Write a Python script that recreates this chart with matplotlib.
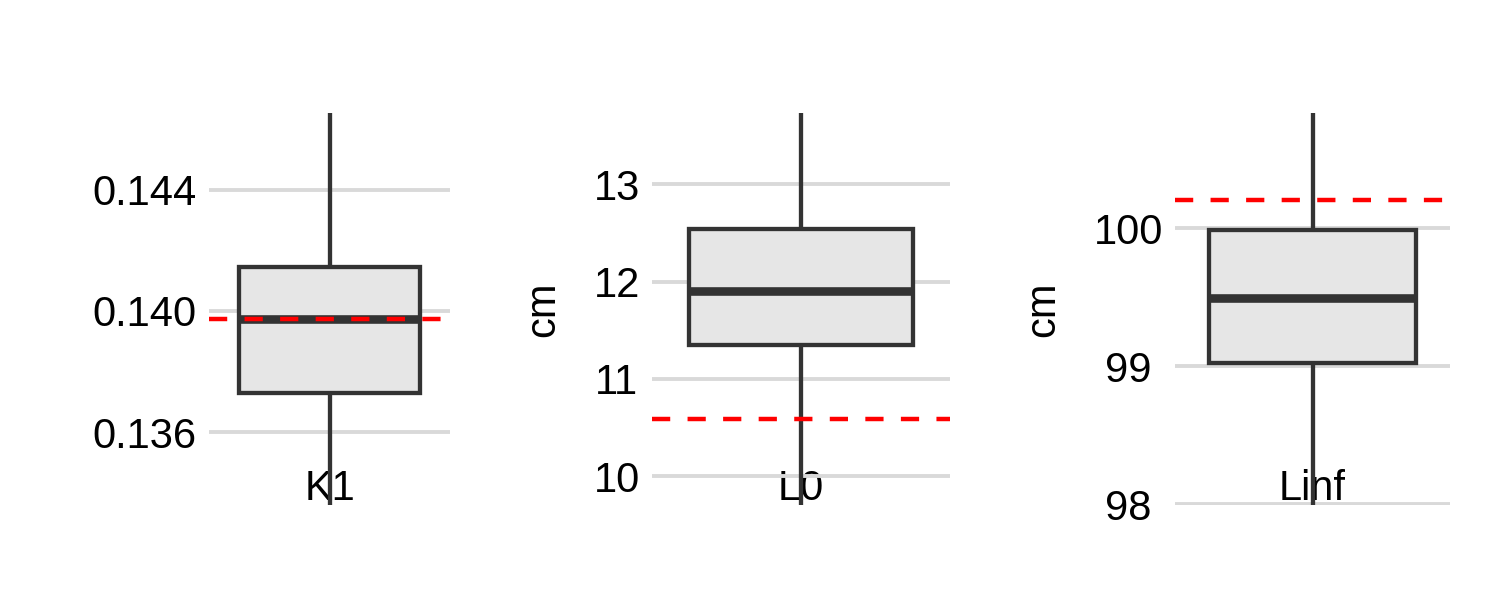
import matplotlib
matplotlib.use("Agg")
import matplotlib.pyplot as plt

plt.rcParams['font.family'] = ['Liberation Sans', 'DejaVu Sans']

# ---- data ----
params = ['K1', 'L0', 'Linf']
ylabels = ['', 'cm', 'cm']
whisker_low = [0.1330, 9.5, 97.5]
q1 = [0.13729, 11.350, 99.02]
median = [0.13975, 11.904, 99.496]
q3 = [0.14144, 12.538, 99.99]
whisker_high = [0.1470, 14.0, 101.0]
reference = [0.13974, 10.586, 100.205]
yticks = [[0.136, 0.140, 0.144], [10, 11, 12, 13], [98, 99, 100]]
yticklabels = [['0.136', '0.140', '0.144'], ['10', '11', '12', '13'], ['98', '99', '100']]
ylims = [(0.133587, 0.146545), (9.705, 13.733), (97.993, 100.837)]

# ---- layout ----
W, H, DPI = 15, 6, 100
fig = plt.figure(figsize=(W, H), dpi=DPI)
panel_px = [(209, 450), (652, 950), (1175, 1450)]
top_px, bot_px = 113, 505

DARK = '#333333'
FS = 30

axes = []
for i, p in enumerate(params):
    l, r = panel_px[i]
    ax = fig.add_axes([l / 1500, 1 - bot_px / 600, (r - l) / 1500, (bot_px - top_px) / 600])
    axes.append(ax)
    stats = [dict(med=median[i], q1=q1[i], q3=q3[i],
                  whislo=whisker_low[i], whishi=whisker_high[i], fliers=[])]
    ax.bxp(stats, positions=[0], widths=0.75, patch_artist=True, showcaps=False,
           showfliers=False,
           boxprops=dict(facecolor='#e6e6e6', edgecolor=DARK, linewidth=3.1),
           medianprops=dict(color=DARK, linewidth=6.2, solid_capstyle='butt'),
           whiskerprops=dict(color=DARK, linewidth=3.1, solid_capstyle='butt'),
           zorder=3)
    ax.axhline(reference[i], color='#ff0000', linewidth=3.2,
               linestyle=(0, (4.1, 3.9)), zorder=5)

    ax.set_xlim(-0.5, 0.5)
    ax.set_ylim(*ylims[i])
    ax.set_yticks(yticks[i], yticklabels[i])
    ax.set_xticks([0], [p])
    for s in ax.spines.values():
        s.set_visible(False)
    ax.grid(axis='y', color='#d9d9d9', linewidth=2.8)
    ax.grid(axis='x', visible=False)
    ax.set_axisbelow(True)
    ax.tick_params(axis='both', length=0, labelsize=FS, labelcolor='black')
    ax.tick_params(axis='x', pad=-3.6)
    for t in ax.get_xticklabels():
        t.set_va('baseline')
        t.set_zorder(1)
    for t in ax.get_yticklabels():
        t.set_ha('center')
    if ylabels[i]:
        ax.set_ylabel(ylabels[i], fontsize=FS, labelpad=22)

fig.canvas.draw()
rend = fig.canvas.get_renderer()
for ax in axes:
    w = max(t.get_window_extent(rend).width for t in ax.get_yticklabels())
    ax.tick_params(axis='y', pad=(12 + w / 2) * 72 / DPI)

fig.savefig('out.png', dpi=DPI)
